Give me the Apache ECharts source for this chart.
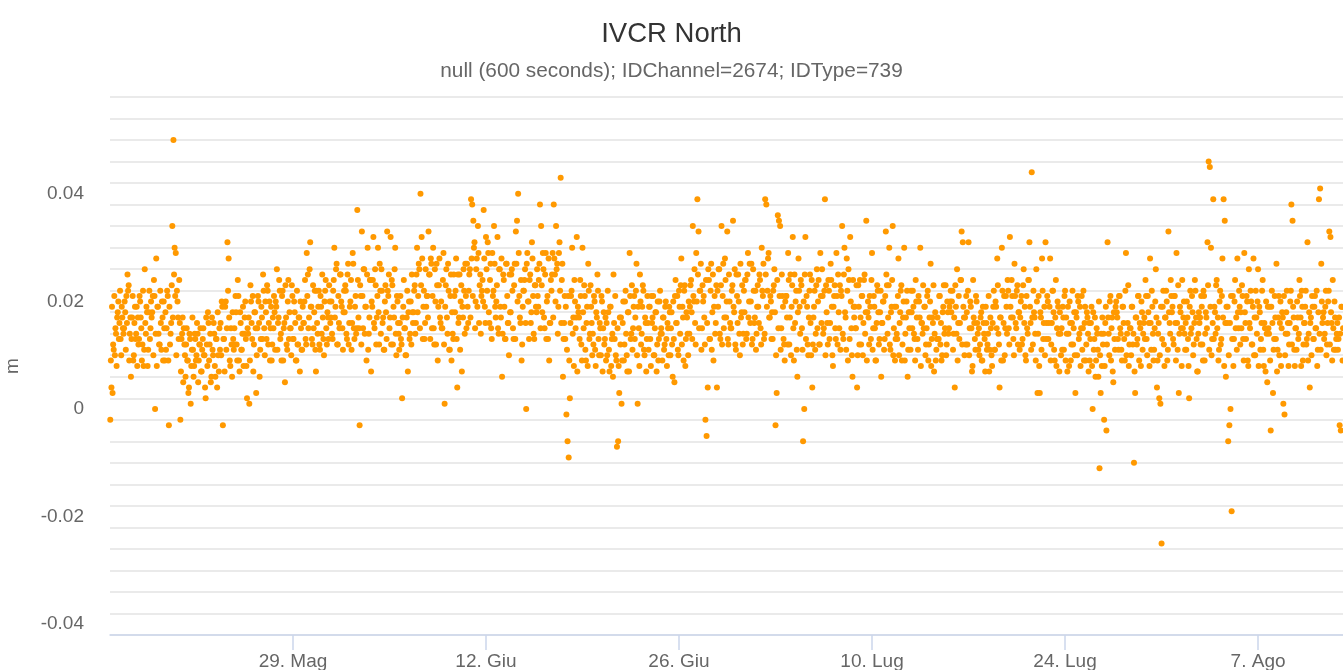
<!DOCTYPE html>
<html>
<head>
<meta charset="utf-8">
<script src="https://cdn.jsdelivr.net/npm/echarts@6/dist/echarts.min.js"></script>
<style>
html,body{margin:0;padding:0;background:#fff;}
#chart{width:1343px;height:670px;}
</style>
</head>
<body>
<div id="chart"></div>
<script>
// Chart texts
const chartTitle = 'IVCR North';
const chartSubtitle = 'null (600 seconds); IDChannel=2674; IDType=739';
const yAxisName = 'm';

// X axis: days relative to 29 May; tick positions and labels
const tickDays = [0, 14, 28, 42, 56, 70];
const tickLabels = ['29. Mag', '12. Giu', '26. Giu', '10. Lug', '24. Lug', '7. Ago'];
const xMinDay = -13.27;
const xMaxDay = 76.16;

// Y axis labels (m)
const yLabelValues = [-0.04, -0.02, 0, 0.02, 0.04];

// Samples: one every 2 hours (even hours), first sample day relative to 29 May
const firstSampleDay = -13.25;
const samplesPerDay = 12;

// North displacement at even sample hours, millimetres
const northMmEven = [
  -2, 4, 3, 11, 10, 14, 17, 20, 16, 13, 19, 15,
  15, 18, 21, 25, 23, 14, 6, 17, 9, 16, 13, 19,
  17, 13, 20, 15, 12, 8, 26, 14, 18, 11, 22, 15,
  17, 21, 24, 0, 28, 19, 14, 12, 16, 20, 9, 15,
  18, 15, 21, -3, 12, 16, 34, 50, 30, 29, 22, 17,
  24, -2, 13, 17, 15, 10, 12, 9, 3, 14, 1, 11,
  11, 8, 13, 10, 14, 9, 12, 7, 11, 15, 10, 2,
  12, 18, 9, 14, 6, 11, 16, 8, 13, 4, 10, 15,
  16, 20, -3, 13, 19, 11, 31, 28, 9, 15, 6, 13,
  15, 21, 12, 24, 9, 18, 11, 14, 8, 17, 13, 2,
  14, 1, 23, 16, 21, 12, 18, 3, 15, 20, 6, 13,
  17, 25, 15, 20, 13, 22, 16, 9, 19, 12, 15, 18,
  20, 26, 16, 24, 13, 9, 22, 15, 5, 17, 11, 24,
  18, 15, 23, 13, 20, 16, 9, 12, 17, 7, 15, 11,
  16, 20, 13, 29, 25, 17, 31, 19, 12, 15, 22, 7,
  16, 19, 12, 21, 14, 17, 10, 22, 15, 18, 13, 20,
  17, 14, 22, 30, 19, 27, 12, 16, 25, 20, 15, 18,
  18, 22, 13, 27, 16, 20, 11, 29, 15, 19, 14, 37,
  17, -3, 21, 33, 15, 26, 19, 9, 30, 14, 24, 7,
  19, 32, 15, 23, 17, 30, 12, 22, 26, 16, 11, 20,
  18, 33, 21, 15, 32, 24, 12, 17, 30, 10, 20, 14,
  16, 13, 2, 19, 15, 10, 17, 7, 20, 14, 12, 18,
  18, 23, 16, 30, 21, 26, 40, 32, 13, 22, 16, 19,
  21, 33, 25, 28, 15, 30, 12, 20, 27, 9, 23, 17,
  20, 15, 29, 1, 23, 17, 27, 11, 21, 9, 14, 25,
  18, 28, 4, 16, 25, 20, 7, 17, 22, 27, 15, 19,
  22, 26, 39, 38, 35, 31, 20, 28, 34, 16, 25, 21,
  24, 37, 19, 32, 22, 29, 16, 27, 13, 21, 34, 19,
  20, 32, 14, 26, 17, 6, 25, 19, 13, 27, 16, 10,
  18, 25, 22, 13, 27, 33, 35, 40, 21, 16, 9, 19,
  22, 26, 0, 29, 20, 24, 16, 31, 21, 13, 23, 18,
  21, 24, 38, 34, 18, 26, 15, 29, 20, 13, 9, 16,
  22, 29, 38, 25, 34, 27, 19, 31, 43, 24, 6, 16,
  13, -1, -6, -9, 2, 21, 30, 17, 24, 15, 32, 19,
  17, 24, 12, 30, 15, 21, 9, 19, 27, 13, 23, 16,
  14, 21, 11, 18, 25, 13, 16, 10, 20, 15, 12, 17,
  16, 22, 11, 19, 8, 14, 25, 13, 10, -7, -6, 3,
  12, 1, 16, 9, 20, 14, 7, 18, 29, 13, 23, 15,
  21, 17, 27, 1, 15, 25, 12, 19, 22, 10, 16, 13,
  16, 19, 13, 21, 17, 10, 15, 18, 12, 9, 20, 14,
  14, 17, 11, 19, 13, 16, 10, 18, 15, 12, 20, 5,
  24, 16, 11, 22, 14, 28, 19, 9, 23, 13, 17, 10,
  14, 23, 18, 34, 20, 16, 29, 39, 33, 22, 27, 15,
  20, 17, -2, -5, 4, 24, 13, 27, 18, 9, 21, 16,
  4, 19, 26, 13, 34, 21, 15, 28, 17, 33, 12, 20,
  15, 22, 35, 18, 12, 25, 16, 20, 10, 17, 23, 14,
  18, 24, 14, 29, 20, 16, 27, 13, 22, 17, 11, 19,
  19, 25, 15, 30, 21, 13, 39, 38, 22, 29, 17, 20,
  18, 22, 26, -3, 3, 36, 35, 34, 15, 21, 13, 9,
  21, 17, 29, 12, 25, 19, 32, 9, 16, 22, 6, 28,
  19, 24, 15, -6, 0, 32, 21, 12, 17, 25, 10, 4,
  17, 22, 14, 26, 20, 12, 29, 16, 21, 15, 39, 23,
  16, 24, 13, 27, 19, 8, 21, 15, 29, 12, 18, 23,
  22, 34, 13, 30, 17, 28, 9, 24, 32, 15, 6, 19,
  19, 15, 4, 23, 12, 17, 21, 10, 24, 14, 35, 18,
  17, 21, 13, 29, 15, 19, 9, 16, 22, 12, 18, 6,
  16, 20, 13, 33, 23, 17, 30, 11, 19, 34, 15, 9,
  19, 13, 28, 16, 22, 9, 17, 30, 14, 20, 6, 18,
  18, 22, 15, 19, 13, 24, 17, 11, 20, 30, 16, 14,
  15, 19, 12, 21, 9, 17, 27, 13, 16, 7, 18, 11,
  17, 13, 21, 16, 10, 19, 14, 23, 12, 18, 15, 20,
  18, 22, 14, 4, 19, 26, 16, 13, 24, 33, 31, 17,
  17, 21, 12, 31, 15, 19, 7, 24, 16, 11, 20, 14,
  15, 12, 18, 9, 16, 13, 19, 11, 14, 7, 17, 10,
  16, 22, 11, 19, 28, 14, 4, 17, 30, 9, 21, 15,
  19, 24, 15, 32, 17, 21, 13, 27, 16, 22, 12, 18,
  17, 21, 13, 26, 19, 9, 15, 24, 31, 16, 44, 12,
  18, 14, 26, 3, 21, 3, 17, 28, 13, 19, 31, 16,
  20, 16, 28, 12, 22, 18, 9, 24, 15, 19, 7, 14,
  15, 19, 11, 22, 17, 7, 14, 20, 9, 16, 12, 18,
  3, 17, 21, 13, 19, 15, 11, 22, 16, 9, 18, 14,
  16, 13, 19, 0, 11, 17, 9, 14, 6, -11, 3, 8,
  12, -2, 16, -4, 31, 14, 20, 9, 17, 5, 13, 19,
  18, 13, 21, 15, 11, 19, 16, 9, 29, 14, 23, 12,
  15, 19, 12, -10, 3, 17, 13, 21, 16, 8, 18, 14,
  17, 24, 13, 21, 16, 28, 11, 19, 9, 15, 26, 4,
  14, 2, 1, -25, 19, 12, 17, 22, 9, 33, 16, 24,
  18, 13, 21, 16, 29, 11, 3, 19, 15, 24, 17, 14,
  16, 20, 13, 2, 22, 15, 18, 12, 24, 17, 7, 14,
  16, 12, 19, 9, 21, 14, 17, 31, 46, 45, 30, 13,
  39, 19, 14, 24, 17, 11, 22, 13, 28, 39, 35, 6,
  16, -6, -3, 0, -19, 21, 13, 24, 17, 28, 15, 19,
  18, 23, 13, 29, 16, 21, 9, 26, 15, 20, 12, 28,
  17, 22, 14, 26, 19, 11, 16, 24, 8, 15, 20, 5,
  15, 19, -4, 22, 3, 13, 17, 27, 11, 21, 16, 8,
  18, 1, -1, 14, 22, 16, 12, 20, 38, 35, 17, 8,
  15, 20, 13, 24, 17, 22, 9, 16, 19, 12, 31, 14,
  4, 17, 21, 13, 19, 15, 22, 11, 39, 41, 27, 16,
  18, 14, 22, 12, 20, 33, 32, 16, 24, 11, 17, 13,
  16, 13, -3, -4, 19, 15
];

// North displacement at odd sample hours (one hour later), millimetres
const northMmOdd = [
  9, 19, 12, 21, 15, 8, 18, 13, 22, 10, 17, 14,
  20, 11, 16, 22, 9, 17, 13, 21, 10, 19, 14, 8,
  12, 21, 17, 9, 22, 11, 16, 19, 8, 18, 13, 20,
  18, 10, 21, 14, 8, 19, 12, 22, 11, 17, 20, 9,
  11, 22, 9, 19, 14, 23, 17, 25, 21, 10, 20, 13,
  16, 7, 14, 5, 12, 6, 15, 9, 4, 13, 8, 17,
  6, 14, 9, 16, 5, 12, 15, 7, 13, 10, 4, 17,
  8, 16, 12, 5, 17, 10, 14, 6, 13, 18, 7, 11,
  10, 19, 13, 7, 20, 15, 22, 17, 8, 12, 18, 11,
  12, 18, 9, 21, 7, 16, 11, 19, 14, 20, 8, 15,
  17, 9, 20, 13, 7, 18, 15, 10, 21, 16, 11, 19,
  13, 22, 10, 18, 23, 12, 20, 15, 9, 17, 21, 11,
  19, 11, 17, 22, 14, 21, 9, 16, 23, 12, 20, 13,
  15, 10, 21, 13, 18, 9, 22, 12, 17, 20, 11, 19,
  16, 24, 12, 21, 15, 26, 19, 13, 23, 18, 11, 22,
  14, 22, 11, 19, 25, 13, 20, 24, 12, 17, 23, 16,
  20, 13, 24, 17, 26, 12, 21, 15, 25, 19, 11, 22,
  23, 14, 25, 12, 19, 24, 16, 27, 13, 21, 15, 24,
  15, 23, 12, 21, 26, 14, 19, 25, 11, 17, 24, 20,
  24, 16, 26, 12, 21, 18, 27, 14, 22, 17, 11, 23,
  13, 22, 25, 17, 12, 23, 19, 26, 14, 21, 16, 11,
  21, 12, 17, 24, 15, 10, 22, 18, 13, 20, 25, 16,
  22, 14, 25, 18, 27, 15, 23, 28, 19, 13, 26, 21,
  17, 25, 13, 27, 21, 15, 26, 12, 23, 19, 28, 16,
  15, 24, 12, 19, 26, 14, 22, 11, 25, 18, 13, 21,
  22, 13, 25, 17, 11, 23, 19, 26, 14, 21, 27, 16,
  25, 17, 28, 21, 30, 15, 26, 19, 29, 23, 14, 22,
  20, 28, 16, 26, 31, 18, 24, 15, 29, 22, 27, 17,
  23, 15, 26, 19, 28, 14, 24, 13, 27, 21, 16, 25,
  18, 26, 15, 23, 13, 27, 20, 29, 17, 24, 12, 22,
  24, 16, 27, 20, 13, 25, 18, 28, 14, 23, 19, 26,
  19, 27, 15, 23, 29, 17, 25, 13, 21, 28, 16, 24,
  25, 17, 28, 20, 26, 14, 29, 22, 16, 27, 13, 21,
  19, 11, 21, 9, 16, 22, 14, 8, 20, 17, 7, 18,
  13, 21, 9, 18, 23, 11, 16, 8, 22, 14, 19, 10,
  12, 20, 8, 17, 22, 10, 15, 21, 7, 18, 13, 9,
  10, 18, 7, 19, 13, 6, 16, 21, 9, 15, 8, 17,
  17, 9, 20, 12, 22, 10, 18, 7, 21, 14, 11, 19,
  13, 22, 10, 19, 8, 20, 14, 23, 11, 17, 7, 21,
  11, 19, 8, 16, 21, 10, 18, 7, 20, 13, 22, 15,
  9, 17, 12, 20, 8, 15, 19, 10, 18, 6, 13, 21,
  16, 21, 10, 19, 23, 12, 17, 22, 8, 18, 14, 20,
  19, 24, 13, 21, 26, 12, 20, 25, 15, 22, 11, 23,
  21, 12, 24, 16, 26, 13, 22, 11, 25, 19, 14, 23,
  22, 26, 14, 23, 12, 27, 17, 24, 20, 13, 25, 16,
  15, 23, 19, 26, 11, 21, 25, 14, 27, 18, 12, 22,
  24, 13, 25, 17, 27, 20, 12, 26, 16, 22, 14, 23,
  16, 24, 12, 22, 27, 14, 25, 19, 28, 17, 21, 13,
  13, 23, 18, 10, 24, 15, 21, 11, 25, 19, 12, 20,
  21, 12, 24, 17, 10, 23, 15, 25, 20, 11, 18, 22,
  14, 23, 11, 20, 25, 13, 19, 10, 22, 16, 24, 12,
  19, 11, 23, 15, 24, 12, 21, 26, 14, 22, 10, 18,
  12, 22, 16, 24, 10, 19, 23, 13, 21, 25, 15, 11,
  21, 14, 25, 18, 11, 22, 26, 13, 20, 10, 24, 17,
  15, 23, 10, 19, 24, 12, 21, 16, 25, 18, 9, 20,
  12, 19, 24, 11, 21, 15, 9, 23, 18, 13, 22, 16,
  20, 11, 21, 25, 14, 23, 12, 18, 24, 10, 19, 13,
  14, 21, 10, 18, 23, 12, 20, 9, 17, 22, 11, 15,
  11, 18, 22, 14, 9, 20, 13, 21, 17, 8, 16, 23,
  19, 10, 15, 22, 12, 20, 8, 17, 23, 14, 9, 13,
  13, 21, 12, 9, 18, 23, 15, 10, 20, 14, 19, 22,
  20, 11, 17, 23, 14, 9, 21, 16, 24, 12, 19, 10,
  12, 18, 22, 10, 20, 15, 8, 17, 13, 21, 16, 11,
  10, 17, 9, 19, 14, 7, 16, 12, 21, 11, 15, 8,
  19, 11, 20, 15, 23, 12, 17, 9, 22, 16, 10, 21,
  14, 22, 12, 19, 24, 17, 10, 21, 15, 23, 18, 11,
  20, 12, 23, 16, 10, 21, 14, 24, 19, 11, 17, 22,
  17, 9, 20, 14, 8, 18, 11, 22, 16, 10, 13, 21,
  13, 19, 9, 16, 22, 11, 17, 8, 20, 14, 18, 10,
  11, 17, 21, 9, 14, 19, 8, 16, 12, 22, 15, 10,
  18, 10, 20, 14, 8, 21, 15, 9, 19, 12, 17, 7,
  9, 16, 8, 18, 13, 6, 15, 11, 20, 10, 14, 17,
  14, 8, 19, 12, 17, 10, 21, 15, 7, 18, 11, 20,
  17, 11, 21, 14, 9, 19, 13, 22, 10, 16, 8, 15,
  10, 19, 14, 7, 17, 12, 21, 9, 15, 20, 11, 16,
  13, 21, 10, 18, 8, 16, 22, 14, 11, 20, 17, 9,
  16, 10, 19, 13, 22, 8, 17, 20, 11, 18, 14, 21,
  19, 12, 21, 9, 16, 23, 14, 18, 8, 15, 20, 11,
  11, 17, 8, 19, 14, 21, 10, 16, 22, 13, 7, 18,
  17, 21, 12, 22, 9, 18, 15, 23, 11, 19, 10, 16,
  13, 18, 23, 15, 9, 20, 12, 21, 17, 8, 16, 19,
  19, 10, 16, 21, 13, 8, 20, 15, 11, 18, 22, 12,
  15, 21, 9, 18, 13, 20, 8, 16, 22, 12, 19, 10,
  10, 17, 20, 8, 18, 13, 22, 11, 16, 7, 14, 19,
  14, 9, 19, 16, 11, 21, 13, 7, 17, 10, 20, 15,
  17, 21, 10, 18, 14, 8, 16, 22, 12, 19, 11, 15,
  11, 17, 14, 21, 8, 19, 12, 16, 22, 13, 9, 18,
  16, 10, 19, 13, 21, 15, 8, 18, 14, 11, 20, 17,
  13, 19, 10, 16, 22, 12, 18, 9, 15, 20, 11, 14,
  11, 17, 14, 19, 9, 16
];

const FONT = '"Liberation Sans", Arial, Helvetica, sans-serif';
const hourInDays = 1 / 24;
const seriesData = [];
northMmEven.forEach((v, i) => seriesData.push([firstSampleDay + i / samplesPerDay, v / 1000]));
northMmOdd.forEach((v, i) => seriesData.push([firstSampleDay + hourInDays + i / samplesPerDay, v / 1000]));

const chart = echarts.init(document.getElementById('chart'), null, {renderer: 'canvas'});
chart.setOption({
  animation: false,
  backgroundColor: '#ffffff',
  title: [
    {
      text: chartTitle, left: 'center', top: 12,
      textStyle: {fontFamily: FONT, fontSize: 27.5, fontWeight: 'normal', color: '#333333', lineHeight: 34}
    },
    {
      text: chartSubtitle, left: 'center', top: 54,
      textStyle: {fontFamily: FONT, fontSize: 20.8, fontWeight: 'normal', color: '#666666', lineHeight: 24}
    }
  ],
  grid: {left: 110, right: 0, top: 97, bottom: 35, containLabel: false, outerBoundsMode: 'none'},
  xAxis: [{
    type: 'value', min: xMinDay, max: xMaxDay,
    axisLine: {show: true, lineStyle: {color: '#ccd6eb', width: 1.5}},
    axisTick: {show: true, customValues: tickDays, length: 15, lineStyle: {color: '#ccd6eb', width: 1.5}},
    axisLabel: {
      customValues: tickDays,
      formatter: function (v) { const k = tickDays.indexOf(v); return k >= 0 ? tickLabels[k] : ''; },
      margin: 17, color: '#666666', fontSize: 19, fontFamily: FONT
    },
    splitLine: {show: false}
  }],
  yAxis: [
    {
      // gridline axis: lines every 0.004 m from the bottom of the plot
      type: 'value', min: 0, max: 0.1, interval: 0.004,
      axisLine: {show: false}, axisTick: {show: false}, axisLabel: {show: false},
      splitLine: {show: true, lineStyle: {color: '#e3e3e3', width: 1.5}}
    },
    {
      type: 'value', min: -0.042, max: 0.058, interval: 0.002, position: 'left',
      axisLine: {show: false}, axisTick: {show: false}, splitLine: {show: false},
      axisLabel: {
        margin: 26, color: '#666666', fontSize: 19, fontFamily: FONT,
        formatter: function (v) {
          const r = Math.round(v * 1000);
          for (const lv of yLabelValues) {
            if (Math.round(lv * 1000) === r) return String(r / 1000);
          }
          return '';
        }
      },
      name: yAxisName, nameLocation: 'middle', nameRotate: 90, nameGap: 88,
      nameTextStyle: {color: '#666666', fontSize: 19, fontFamily: FONT}
    }
  ],
  series: [{
    type: 'scatter',
    xAxisIndex: 0, yAxisIndex: 1,
    data: seriesData,
    symbol: 'circle', symbolSize: 6,
    itemStyle: {color: '#ff9900', opacity: 1},
    clip: true,
    emphasis: {disabled: true}
  }]
});
</script>
</body>
</html>
